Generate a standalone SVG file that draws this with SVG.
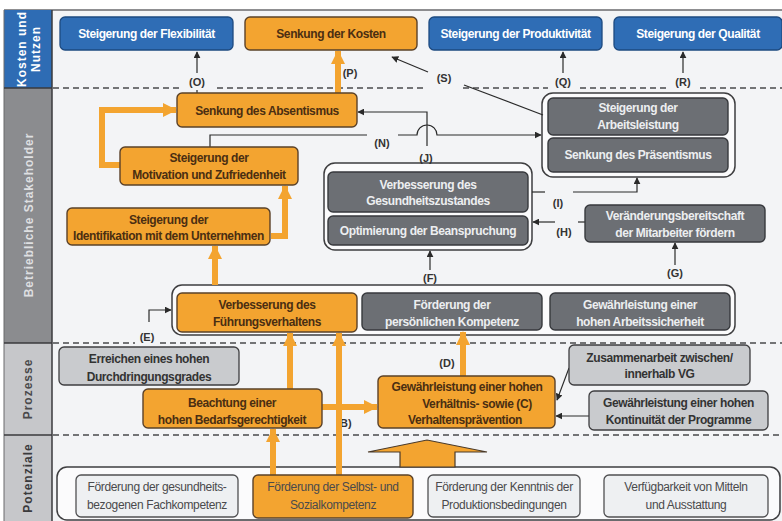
<svg xmlns="http://www.w3.org/2000/svg" width="782" height="521" viewBox="0 0 782 521">
<defs>
<style>
.t{font-family:"Liberation Sans",Arial,sans-serif;font-size:12px;font-weight:bold;text-anchor:middle;letter-spacing:-0.4px}
.tw{fill:#ffffff}
.to{fill:#4a2e12}
.tg{fill:#eceef0}
.tl{fill:#333333}
.tp{font-family:"Liberation Sans",Arial,sans-serif;font-size:12px;text-anchor:middle;fill:#4a4a4c;letter-spacing:-0.35px}
.lab{font-family:"Liberation Sans",Arial,sans-serif;font-size:11px;font-weight:bold;text-anchor:middle;fill:#333333}
.blue{fill:#2f6db5;stroke:#1d4a80;stroke-width:1.3}
.or{fill:#f3a430;stroke:#5a4128;stroke-width:1.4}
.dg{fill:#6c6f74;stroke:#37393d;stroke-width:1.4}
.lg{fill:#c9cbce;stroke:#3e3e40;stroke-width:1.3}
.pg{fill:#eef0f2;stroke:#505052;stroke-width:1.3}
.grp{fill:#fbfbfc;stroke:#3e3e40;stroke-width:1.5}
.dash{stroke:#4a4a4c;stroke-width:1.5;stroke-dasharray:6,4;fill:none}
.thin{stroke:#2a2a2a;stroke-width:1.2;fill:none}
.oa{stroke:#f3a430;stroke-width:6;fill:none}
.side{font-family:"Liberation Sans","DejaVu Sans",sans-serif;font-size:12px;font-weight:bold;text-anchor:middle;letter-spacing:1px}
</style>
<marker id="ah" viewBox="0 0 10 10" refX="9" refY="5" markerWidth="7" markerHeight="7" markerUnits="userSpaceOnUse" orient="auto">
<path d="M0,0 L10,5 L0,10 z" fill="#2a2a2a"/>
</marker>
<marker id="oh" viewBox="0 0 14 14" refX="13" refY="7" markerWidth="14" markerHeight="15" markerUnits="userSpaceOnUse" orient="auto">
<path d="M0,0 L14,7 L0,14 z" fill="#f3a430"/>
</marker>
</defs>

<!-- background -->
<rect x="0" y="0" width="782" height="521" fill="#ffffff"/>
<rect x="4" y="10" width="778" height="511" fill="#f3f4f6"/>
<line x1="4" y1="10" x2="782" y2="10" stroke="#6a6a6c" stroke-width="1.5"/>

<!-- sidebar -->
<g id="sidebar">
<rect x="4" y="10" width="48" height="78" fill="#2e6cb4"/>
<rect x="4" y="88" width="48" height="255" fill="#8b8c8f"/>
<rect x="4" y="343" width="48" height="92" fill="#c6c7ca"/>
<rect x="4" y="435" width="48" height="86" fill="#c6c7ca"/>
<line x1="52" y1="10" x2="52" y2="521" stroke="#3a3a3c" stroke-width="1.5"/>
<line x1="4" y1="10" x2="4" y2="521" stroke="#6a6a6c" stroke-width="1"/>
<line x1="4" y1="88" x2="52" y2="88" stroke="#3a3a3c" stroke-width="1.5"/>
<line x1="4" y1="343" x2="52" y2="343" stroke="#3a3a3c" stroke-width="1.5"/>
<line x1="4" y1="435" x2="52" y2="435" stroke="#3a3a3c" stroke-width="1.5"/>
<text class="side" fill="#ffffff" transform="translate(26,49) rotate(-90)">Kosten und</text>
<text class="side" fill="#ffffff" transform="translate(40,49) rotate(-90)">Nutzen</text>
<text class="side" fill="#dedfe1" transform="translate(33,215) rotate(-90)">Betriebliche Stakeholder</text>
<text class="side" fill="#4a4a4c" transform="translate(32,389) rotate(-90)">Prozesse</text>
<text class="side" fill="#3a3a3c" transform="translate(32,478) rotate(-90)">Potenziale</text>
</g>

<!-- dashed separators -->
<g id="separators">
<path class="dash" d="M53,88 H182 M217,88 H427 M463,88 H548 M580,88 H668 M700,88 H782"/>
<path class="dash" d="M53,343 H135 M160,343 H782"/>
<path class="dash" d="M53,435 H782"/>
</g>

<!-- group frames -->
<g id="group-arbeitsleistung"><rect class="grp" x="542" y="93" width="193" height="84" rx="11"/></g>
<g id="group-gesundheit"><rect class="grp" x="324" y="163" width="208" height="87" rx="11"/></g>
<g id="group-fuehrung"><rect class="grp" x="172" y="285" width="563" height="50" rx="10"/></g>
<g id="group-potenziale"><rect class="grp" x="57" y="467" width="723" height="53" rx="10"/></g>

<!-- connectors -->
<g id="connectors">
<path class="thin" d="M197,94 V90"/>
<path class="thin" d="M197,73 V52" marker-end="url(#ah)"/>
<path class="thin" d="M563,73 V52" marker-end="url(#ah)"/>
<path class="thin" d="M683,73 V52" marker-end="url(#ah)"/>
<path class="thin" d="M543,115 L464,85"/>
<path class="thin" d="M428,72 L392,57" marker-end="url(#ah)"/>
<path class="thin" d="M210,147 V135 H367"/>
<path class="thin" d="M398,135 H417 A10,10 0 0 1 437,135 H541" marker-end="url(#ah)"/>
<path class="thin" d="M427,146 V112 H358" marker-end="url(#ah)"/>
<path class="thin" d="M532,192 H545"/>
<path class="thin" d="M573,192 H637 V178" marker-end="url(#ah)"/>
<path class="thin" d="M585,222 H578"/>
<path class="thin" d="M555,222 H533" marker-end="url(#ah)"/>
<path class="thin" d="M675,265 V243" marker-end="url(#ah)"/>
<path class="thin" d="M430,270 V251" marker-end="url(#ah)"/>
<path class="thin" d="M149,322 V310 H171" marker-end="url(#ah)"/>
<path class="thin" d="M569,368 L557,400" marker-end="url(#ah)"/>
<path class="thin" d="M589,416 H556" marker-end="url(#ah)"/>
<text class="lab" x="197" y="86">(O)</text>
<text class="lab" x="350" y="77">(P)</text>
<text class="lab" x="444" y="82">(S)</text>
<text class="lab" x="563" y="86">(Q)</text>
<text class="lab" x="683" y="86">(R)</text>
<text class="lab" x="382" y="147">(N)</text>
<text class="lab" x="426" y="162">(J)</text>
<text class="lab" x="558" y="207">(I)</text>
<text class="lab" x="564" y="236">(H)</text>
<text class="lab" x="675" y="277">(G)</text>
<text class="lab" x="430" y="282">(F)</text>
<text class="lab" x="147" y="341">(E)</text>
<text class="lab" x="447" y="367">(D)</text>
<text class="lab" x="344" y="427">(B)</text>
<path class="oa" d="M121,165 H102 V110 H176" marker-end="url(#oh)"/>
<path class="oa" d="M338,93 V51" marker-end="url(#oh)"/>
<path class="oa" d="M271,236 H285 V186" marker-end="url(#oh)"/>
<path class="oa" d="M215,285 V246" marker-end="url(#oh)"/>
<path class="oa" d="M290,389 V333" marker-end="url(#oh)"/>
<path class="oa" d="M339,475 V333" marker-end="url(#oh)"/>
<path class="oa" d="M322,407 H377" marker-end="url(#oh)"/>
<path class="oa" d="M463,376 V332" marker-end="url(#oh)"/>
<path class="oa" d="M273,475 V429" marker-end="url(#oh)"/>
<path d="M400,467 V452 H368 L427,440 L487,452 H455 V467 Z" fill="#f3a430" stroke="#4a3a2a" stroke-width="1.2"/>
</g>

<!-- Kosten und Nutzen -->
<g id="n-flexibilitaet"><rect class="blue" x="60" y="17" width="173" height="33" rx="5"/><text class="t tw" x="146.5" y="38">Steigerung der Flexibilität</text></g>
<g id="n-kosten"><rect class="or" x="245" y="17" width="172" height="33" rx="5"/><text class="t to" x="331" y="38">Senkung der Kosten</text></g>
<g id="n-produktivitaet"><rect class="blue" x="429" y="17" width="173" height="33" rx="5"/><text class="t tw" x="515.5" y="38">Steigerung der Produktivität</text></g>
<g id="n-qualitaet"><rect class="blue" x="614" y="17" width="168" height="33" rx="5"/><text class="t tw" x="698" y="38">Steigerung der Qualität</text></g>

<!-- Stakeholder -->
<g id="n-absentismus"><rect class="or" x="177" y="93" width="180" height="34" rx="5"/><text class="t to" x="267" y="115">Senkung des Absentismus</text></g>
<g id="n-motivation"><rect class="or" x="120" y="147" width="178" height="38" rx="5"/><text class="t to" x="209" y="162">Steigerung der</text><text class="t to" x="209" y="179">Motivation und Zufriedenheit</text></g>
<g id="n-identifikation"><rect class="or" x="67" y="208" width="203" height="37" rx="5"/><text class="t to" x="168.5" y="224">Steigerung der</text><text class="t to" x="168.5" y="240">Identifikation mit dem Unternehmen</text></g>
<g id="n-arbeitsleistung"><rect class="dg" x="548" y="98" width="180" height="37" rx="5"/><text class="t tg" x="638" y="112">Steigerung der</text><text class="t tg" x="638" y="129">Arbeitsleistung</text></g>
<g id="n-praesentismus"><rect class="dg" x="548" y="138" width="180" height="34" rx="5"/><text class="t tg" x="638" y="159">Senkung des Präsentismus</text></g>
<g id="n-gesundheit"><rect class="dg" x="328" y="172" width="200" height="40" rx="5"/><text class="t tg" x="428" y="189">Verbesserung des</text><text class="t tg" x="428" y="205">Gesundheitszustandes</text></g>
<g id="n-beanspruchung"><rect class="dg" x="328" y="216" width="200" height="29" rx="5"/><text class="t tg" x="428" y="235">Optimierung der Beanspruchung</text></g>
<g id="n-veraenderung"><rect class="dg" x="585" y="205" width="180" height="37" rx="5"/><text class="t tg" x="675" y="220">Veränderungsbereitschaft</text><text class="t tg" x="675" y="237">der Mitarbeiter fördern</text></g>
<g id="n-fuehrung"><rect class="or" x="177" y="293" width="180" height="39" rx="5"/><text class="t to" x="267" y="309">Verbesserung des</text><text class="t to" x="267" y="326">Führungsverhaltens</text></g>
<g id="n-kompetenz"><rect class="dg" x="362" y="293" width="180" height="37" rx="5"/><text class="t tg" x="452" y="309">Förderung der</text><text class="t tg" x="452" y="326">persönlichen Kompetenz</text></g>
<g id="n-arbeitssicherheit"><rect class="dg" x="550" y="293" width="180" height="37" rx="5"/><text class="t tg" x="640" y="309">Gewährleistung einer</text><text class="t tg" x="640" y="326">hohen Arbeitssicherheit</text></g>

<!-- Prozesse -->
<g id="n-durchdringung"><rect class="lg" x="59" y="347" width="180" height="38" rx="5"/><text class="t tl" x="149" y="363">Erreichen eines hohen</text><text class="t tl" x="149" y="381">Durchdringungsgrades</text></g>
<g id="n-bedarf"><rect class="or" x="143" y="389" width="179" height="39" rx="5"/><text class="t to" x="232" y="407">Beachtung einer</text><text class="t to" x="232" y="424">hohen Bedarfsgerechtigkeit</text></g>
<g id="n-praevention"><rect class="or" x="378" y="376" width="177" height="52" rx="5"/><text class="t to" x="467" y="391">Gewährleistung einer hohen</text><text class="t to" x="477" y="408">Verhältnis- sowie (C)</text><text class="t to" x="465" y="424">Verhaltensprävention</text></g>
<g id="n-zusammenarbeit"><rect class="lg" x="569" y="345" width="181" height="40" rx="5"/><text class="t tl" x="659.5" y="362">Zusammenarbeit zwischen/</text><text class="t tl" x="659.5" y="378">innerhalb VG</text></g>
<g id="n-kontinuitaet"><rect class="lg" x="589" y="391" width="179" height="39" rx="5"/><text class="t tl" x="678.5" y="407">Gewährleistung einer hohen</text><text class="t tl" x="678.5" y="424">Kontinuität der Programme</text></g>

<!-- Potenziale -->
<g id="n-fachkompetenz"><rect class="pg" x="76" y="475" width="162" height="42" rx="5"/><text class="tp" x="157" y="491">Förderung der gesundheits-</text><text class="tp" x="157" y="509">bezogenen Fachkompetenz</text></g>
<g id="n-sozialkompetenz"><rect class="or" x="253" y="475" width="160" height="43" rx="5"/><text class="tp" x="333" y="491" fill="#4a3a28">Förderung der Selbst- und</text><text class="tp" x="333" y="509" fill="#4a3a28">Sozialkompetenz</text></g>
<g id="n-produktion"><rect class="pg" x="428" y="475" width="152" height="42" rx="5"/><text class="tp" x="504" y="491">Förderung der Kenntnis der</text><text class="tp" x="504" y="509">Produktionsbedingungen</text></g>
<g id="n-mittel"><rect class="pg" x="604" y="475" width="164" height="42" rx="5"/><text class="tp" x="686" y="491">Verfügbarkeit von Mitteln</text><text class="tp" x="686" y="509">und Ausstattung</text></g>
</svg>
